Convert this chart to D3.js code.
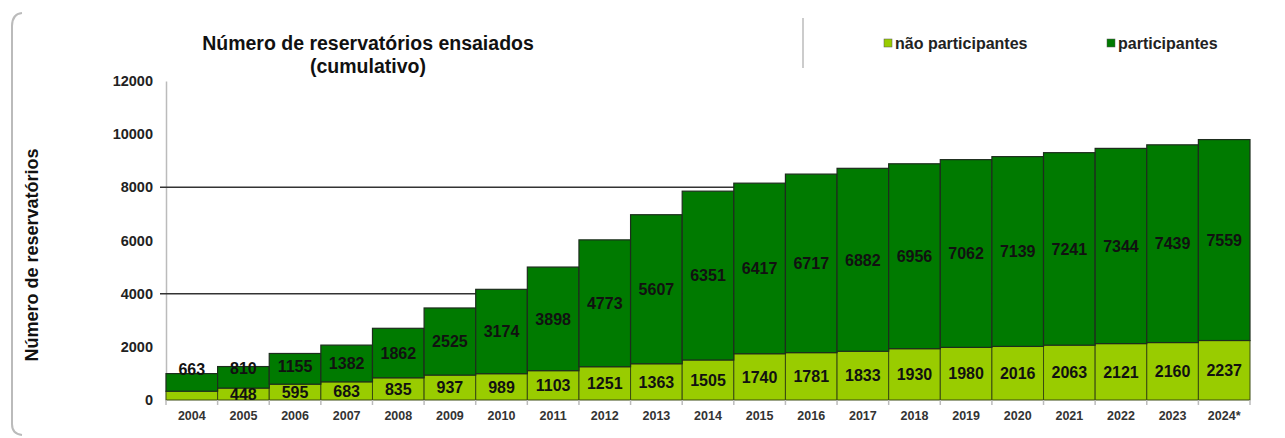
<!DOCTYPE html>
<html><head><meta charset="utf-8">
<script src="https://cdn.jsdelivr.net/npm/d3@7"></script>
<style>html,body{margin:0;padding:0;background:#fff;}svg{display:block;font-family:"Liberation Sans",Arial,sans-serif;}</style>
</head><body>
<svg id="c" width="1285" height="438"></svg>
<script>
const years = ['2004','2005','2006','2007','2008','2009','2010','2011','2012','2013','2014','2015','2016','2017','2018','2019','2020','2021','2022','2023','2024*'];
const naoParticipantes = [330,448,595,683,835,937,989,1103,1251,1363,1505,1740,1781,1833,1930,1980,2016,2063,2121,2160,2237];
const naoLabels = [null,'448','595','683','835','937','989','1103','1251','1363','1505','1740','1781','1833','1930','1980','2016','2063','2121','2160','2237'];
const participantes = [663,810,1155,1382,1862,2525,3174,3898,4773,5607,6351,6417,6717,6882,6956,7062,7139,7241,7344,7439,7559];
const yTicks = [0,2000,4000,6000,8000,10000,12000];
const gridValues = [4000,8000];
const seriesNames = ['não participantes','participantes'];
const colors = ['#99CC00','#007A00'];

const svg = d3.select('#c');
const x = d3.scaleBand().domain(years).range([166,1250]).padding(0);
const y = d3.scaleLinear().domain([0,12000]).range([400,81]);

// frame (left edge with rounded corners)
svg.append('path').attr('d','M22,13 Q12,14 12,26 L12,424 Q12,434 22,435')
  .attr('fill','none').attr('stroke','#bbb').attr('stroke-width',2);

// separator
svg.append('line').attr('x1',803).attr('x2',803).attr('y1',18).attr('y2',68).attr('stroke','#ccc').attr('stroke-width',2);

// title
svg.append('text').attr('x',368).attr('y',50).attr('text-anchor','middle')
  .attr('font-size',19.5).attr('font-weight','bold').attr('fill','#111').text('Número de reservatórios ensaiados');
svg.append('text').attr('x',368).attr('y',73).attr('text-anchor','middle')
  .attr('font-size',19.5).attr('font-weight','bold').attr('fill','#111').text('(cumulativo)');

// legend
const legX = [884,1107];
seriesNames.forEach((n,i)=>{
  svg.append('rect').attr('x',legX[i]).attr('y',39).attr('width',8).attr('height',8).attr('fill',colors[i]).attr('stroke','#555').attr('stroke-width',0.5);
  svg.append('text').attr('x',legX[i]+11).attr('y',49).attr('font-size',16).attr('font-weight','bold').attr('fill','#222').text(n);
});

// y-axis title
svg.append('text').attr('transform','translate(38,255) rotate(-90)').attr('text-anchor','middle')
  .attr('font-size',18).attr('font-weight','bold').attr('fill','#111').text('Número de reservatórios');

// y axis
const yAxis = d3.axisLeft(y).tickValues(yTicks).tickSize(0).tickPadding(13).tickFormat(d3.format('d'));
const ya = svg.append('g').attr('transform','translate(166,0)').call(yAxis);
ya.select('.domain').attr('stroke','#bbb').attr('stroke-width',1.5);
ya.selectAll('text').attr('font-size',14.5).attr('font-weight','bold').attr('fill','#222').attr('font-family','"Liberation Sans",Arial,sans-serif');

// gridlines
svg.append('g').selectAll('line').data(gridValues).join('line')
  .attr('x1',160).attr('x2',1250).attr('y1',d=>y(d)).attr('y2',d=>y(d))
  .attr('stroke','#333').attr('stroke-width',1.5);

// bars
const data = years.map((yr,i)=>({yr, a:naoParticipantes[i], b:participantes[i], la:naoLabels[i]}));
const g = svg.append('g');
g.selectAll('rect.a').data(data).join('rect').attr('class','a')
  .attr('x',d=>x(d.yr)).attr('width',x.bandwidth())
  .attr('y',d=>y(d.a)).attr('height',d=>y(0)-y(d.a))
  .attr('fill',colors[0]).attr('stroke','#3a4a10').attr('stroke-width',1);
g.selectAll('rect.b').data(data).join('rect').attr('class','b')
  .attr('x',d=>x(d.yr)).attr('width',x.bandwidth())
  .attr('y',d=>y(d.a+d.b)).attr('height',d=>y(d.a)-y(d.a+d.b))
  .attr('fill',colors[1]).attr('stroke','#1d2d1d').attr('stroke-width',1.2);

// x axis
const xAxis = d3.axisBottom(x).tickSize(0).tickPadding(11);
const xa = svg.append('g').attr('transform','translate(0,400)').call(xAxis);
xa.select('.domain').remove();
xa.selectAll('text').attr('font-size',12.5).attr('font-weight','bold').attr('fill','#333').attr('font-family','"Liberation Sans",Arial,sans-serif');
// boundary ticks
svg.append('g').selectAll('line').data(years.concat(['end'])).join('line')
  .attr('x1',(d,i)=>i<years.length?x(d):x.range()[1]).attr('x2',(d,i)=>i<years.length?x(d):x.range()[1])
  .attr('y1',400).attr('y2',405).attr('stroke','#bbb').attr('stroke-width',1.5);

// labels
const cx = d=>x(d.yr)+x.bandwidth()/2;
g.selectAll('text.la').data(data.filter(d=>d.la)).join('text').attr('class','la')
  .attr('x',cx).attr('y',d=>(y(0)+y(d.a))/2).attr('dy','0.36em').attr('text-anchor','middle')
  .attr('font-size',16).attr('font-weight','bold').attr('fill','#111').text(d=>d.la);
g.selectAll('text.lb').data(data).join('text').attr('class','lb')
  .attr('x',cx).attr('y',d=>Math.min((y(d.a)+y(d.a+d.b))/2, (y(0)+y(d.a))/2-26)).attr('dy','0.36em').attr('text-anchor','middle')
  .attr('font-size',16).attr('font-weight','bold').attr('fill','#111').text(d=>d.b);
</script>
</body></html>
